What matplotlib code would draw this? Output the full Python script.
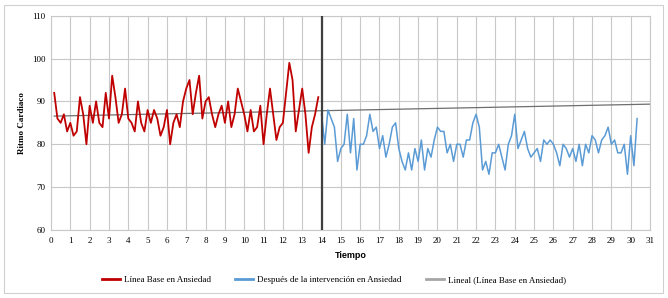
import numpy as np
import matplotlib
matplotlib.use("Agg")
import matplotlib.pyplot as plt
from matplotlib.patches import Rectangle

# ---- data ----
baseline = [92, 86, 85, 87, 83, 85, 82, 83, 91, 87,
            80, 89, 85, 90, 85, 84, 92, 86, 96, 91,
            85, 87, 93, 86, 85, 83, 90, 85, 83, 88,
            85, 88, 86, 82, 84, 88, 80, 85, 87, 84,
            90, 93, 95, 87, 92, 96, 86, 90, 91, 87,
            84, 87, 89, 85, 90, 84, 87, 93, 90, 87,
            83, 88, 83, 84, 89, 80, 87, 93, 87, 81,
            84, 85, 92, 99, 95, 83, 88, 93, 87, 78,
            84, 87, 91]
after = [87, 80, 88, 86, 84, 76, 79, 80, 87, 78,
         86, 74, 80, 80, 82, 87, 83, 84, 79, 82,
         77, 80, 84, 85, 79, 76, 74, 78, 74, 79,
         76, 81, 74, 79, 77, 81, 84, 83, 83, 78,
         80, 76, 80, 80, 77, 81, 81, 85, 87, 84,
         74, 76, 73, 78, 78, 80, 77, 74, 80, 82,
         87, 79, 81, 83, 79, 77, 78, 79, 76, 81,
         80, 81, 80, 78, 75, 80, 79, 77, 79, 76,
         80, 75, 80, 78, 82, 81, 78, 81, 82, 84,
         80, 81, 78, 78, 80, 73, 82, 75, 86]
step = 1 / 6
x_base = np.arange(1, len(baseline) + 1) * step
x_after = np.arange(len(baseline) + 1, len(baseline) + 1 + len(after)) * step
x_ticks = list(range(0, 32))
y_ticks = [60, 70, 80, 90, 100, 110]
phase_change = 14
trend_end = 31

labels = ["Línea Base en Ansiedad",
          "Después de la intervención en Ansiedad",
          "Lineal (Línea Base en Ansiedad)"]

# ---- figure ----
fig = plt.figure(figsize=(6.68, 2.98), dpi=100)
ax = fig.add_axes([51 / 668, 1 - 230 / 298, (650 - 51) / 668, (230 - 15.7) / 298])

serif = ["Liberation Serif", "DejaVu Serif"]

# grid
for xt in x_ticks:
    ax.axvline(xt, color="#c8c8c8", lw=0.8, zorder=0)
for yt in y_ticks:
    ax.axhline(yt, color="#c8c8c8", lw=0.8, zorder=0)

coef = np.polyfit(x_base, baseline, 1)
xt_line = np.array([x_base[0], trend_end])
ax.plot(xt_line, np.polyval(coef, xt_line), color="#6e6e6e", lw=0.9, zorder=2, label=labels[2])

ax.plot(x_base, baseline, color="#C00000", lw=1.3, zorder=3, label=labels[0])
ax.plot(x_after, after, color="#5B9BD5", lw=1.1, zorder=3, label=labels[1])

ax.axvline(phase_change, color="#404040", lw=1.6, zorder=4)

ax.set_xlim(0, 31)
ax.set_ylim(60, 110)
ax.set_xticks(x_ticks)
ax.set_yticks(y_ticks)
ax.tick_params(length=0, labelsize=6.5, pad=4)
ax.tick_params(axis="x", pad=5)
for lab in ax.get_xticklabels() + ax.get_yticklabels():
    lab.set_fontfamily(serif)
for s in ax.spines.values():
    s.set_color("#c8c8c8")
    s.set_linewidth(0.8)

ax.set_ylabel("Ritmo Cardiaco", fontfamily=serif, fontweight="bold", fontsize=6.5, labelpad=4)
ax.set_xlabel("Tiempo", fontfamily=["Liberation Sans", "DejaVu Sans"], fontweight="bold", fontsize=6.5, labelpad=4)

h, l = ax.get_legend_handles_labels()
order = [1, 2, 0]
leg = fig.legend([h[i] for i in order], [l[i] for i in order], loc="center",
                 bbox_to_anchor=(0.5, 1 - 280 / 298), ncol=3, frameon=False,
                 prop={"family": serif, "size": 6.5}, handlelength=2.0,
                 columnspacing=2.7, handletextpad=0.4)
for lh in leg.get_lines():
    lh.set_linewidth(2)
leg.get_lines()[2].set_color("#a6a6a6")

fig.patches.append(Rectangle((4 / 668, 5 / 298), 659 / 668, 288 / 298, transform=fig.transFigure,
                             fill=False, edgecolor="#d0d0d0", lw=0.8))

fig.savefig("out.png", dpi=100)
